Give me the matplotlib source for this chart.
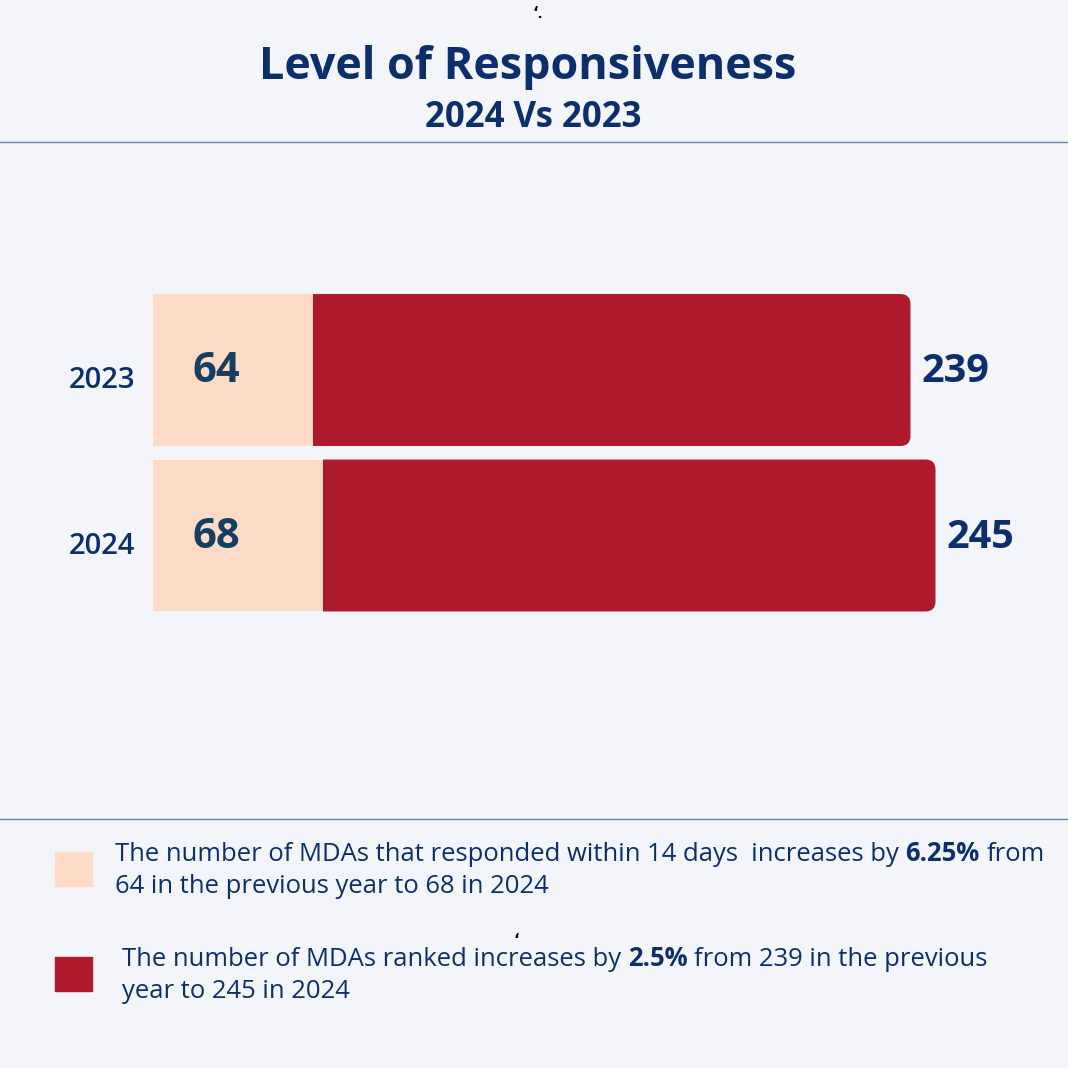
import matplotlib.pyplot as plt
from matplotlib.patches import FancyBboxPatch, Rectangle
from matplotlib.lines import Line2D
from matplotlib.transforms import ScaledTranslation, Bbox, TransformedBbox

# data
years = ['2023', '2024']
responded = [64, 68]
ranked = [239, 245]
legend_colors = ['#fddbc6', '#ae1a2c']
legend_texts = [
    [[('The number of MDAs that responded within 14 days  increases by', False), ('6.25%', True), ('from', False)],
     [('64 in the previous year to 68 in 2024', False)]],
    [[('The number of MDAs ranked increases by', False), ('2.5%', True), ('from 239 in the previous', False)],
     [('year to 245 in 2024', False)]],
]

bg = '#f3f5fb'
navy = '#0c2f6b'
peach = '#fddbc6'
red = '#ae1a2c'
W = 1068.0

plt.rcParams['font.family'] = ['Open Sans', 'DejaVu Sans']

fig = plt.figure(figsize=(10.68, 10.68), dpi=100)
fig.patch.set_facecolor(bg)

def fx(x):
    return x / W

def fy(y):
    return 1 - y / W

# title
fig.text(fx(528), fy(79), 'Level of Responsiveness', ha='center', va='baseline',
         fontsize=32.3, fontweight='bold', color=navy)
fig.text(fx(533), fy(127), '2024 Vs 2023', ha='center', va='baseline',
         fontsize=25, fontweight='bold', color=navy)
fig.text(fx(538), fy(14), 'ʻ.', ha='center', va='center', fontsize=11,
         fontweight='bold', color='black')

# separators
fig.add_artist(Line2D([0, 1], [fy(142), fy(142)], color='#6b81ad', lw=1))
fig.add_artist(Line2D([0, 1], [fy(819), fy(819)], color='#6b81ad', lw=1))

# bars
ax = fig.add_axes([fx(153), fy(701), 900 / W, 496.5 / W])
ax.set_facecolor('none')
ax.set_xlim(0, 360)
ax.set_ylim(2, -1)
ax.axis('off')

pos = list(range(len(years)))
b1 = ax.barh(pos, responded, height=0.918, color=peach, zorder=3)
b2 = ax.barh(pos, ranked, left=responded, height=0.918, color=red, zorder=2)

# rounded right end for dark bars
for r in b2:
    x, y, w, h = r.get_x(), r.get_y(), r.get_width(), r.get_height()
    r.set_visible(False)
    p = FancyBboxPatch((x - 8, y), w + 8, h,
                       boxstyle='round,pad=0,rounding_size=4',
                       mutation_aspect=(1 / 165.5) / (1 / 2.5),
                       fc=red, ec='none', zorder=2)
    ax.add_patch(p)
    p.set_clip_box(TransformedBbox(Bbox.from_bounds(x, y - 0.1, w + 20, h + 0.2), ax.transData))

def off(dx, dy):
    return ax.transData + ScaledTranslation(dx / 100, dy / 100, fig.dpi_scale_trans)

for i in pos:
    ax.text(0, i, years[i], transform=off(-51, -18), ha='center', va='baseline',
            fontsize=21, fontweight='semibold', color=navy)
    ax.text(0, i, str(responded[i]), transform=off(40, -12), ha='left', va='baseline',
            fontsize=30, fontweight='bold', color='#153e60')
    ax.text(responded[i] + ranked[i], i, str(ranked[i]), transform=off(11, -12),
            ha='left', va='baseline', fontsize=28.5, fontweight='bold', color=navy)

# legend
renderer = fig.canvas.get_renderer()

def rich(x, y, parts, size):
    t0 = fig.text(0, 0, 'a a', fontsize=size)
    t1 = fig.text(0, 0, 'aa', fontsize=size)
    sp = t0.get_window_extent(renderer).width - t1.get_window_extent(renderer).width
    t0.remove()
    t1.remove()
    xp = x
    for s, bold in parts:
        t = fig.text(xp / W, fy(y), s, fontsize=size, va='baseline', color=navy,
                     fontweight='bold' if bold else 'normal')
        xp = t.get_window_extent(renderer).x1 + sp

sq_y = [852, 957]
txt_x = [115, 122]
base_y = [[861, 893], [966, 998]]
for k in range(2):
    fig.add_artist(Rectangle((fx(55), fy(sq_y[k] + 34)), 37 / W, 34 / W,
                             color=legend_colors[k], transform=fig.transFigure))
    for j, line in enumerate(legend_texts[k]):
        rich(txt_x[k], base_y[k][j], line, 18.45)

fig.text(fx(516), fy(941), 'ʻ', ha='center', va='center', fontsize=11,
         fontweight='bold', color='black')

fig.savefig('out.png', dpi=100, facecolor=bg)
